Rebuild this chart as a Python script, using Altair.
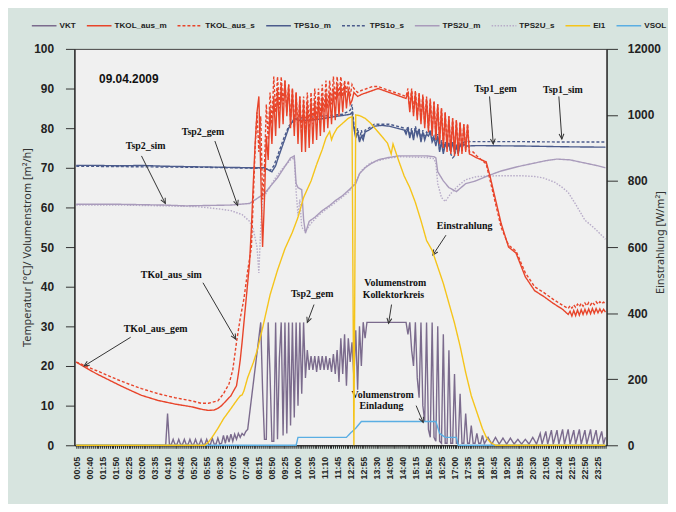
import math
import altair as alt
import pandas as pd


def hm(s):
    h, m = s.split(":")
    return int(h) * 60 + int(m)


def pts(pairs):
    return [(hm(t), v) for t, v in pairs]


def seg(start, values):
    t0 = hm(start)
    return [(t0 + 5 * i, v) for i, v in enumerate(values)]


# ---------------- data ----------------
series_names = ["VKT", "TKOL_aus_m", "TKOL_aus_s", "TPS1o_m", "TPS1o_s",
                "TPS2U_m", "TPS2U_s", "EI1", "VSOL"]
series_colors = ["#7b6b8d", "#e8442a", "#e8442a", "#4b5b8c", "#4b5b8c",
                 "#a99bbb", "#b7abc8", "#f5c41a", "#5aaee3"]
series_dashes = [[1, 0], [1, 0], [3, 2], [1, 0], [3, 2],
                 [1, 0], [1.5, 1.5], [1, 0], [1, 0]]

vkt = (pts([("00:05", 0), ("04:05", 0), ("04:10", 8), ("04:15", 0.2)])
       + seg("04:20", [0.2, 1.5, 0.2, 0.2, 1.5, 0.2, 0.2, 1.5, 0.2, 0.2, 1.5, 0.2,
                       0.2, 1.5, 0.2, 0.2, 1.5, 0.2, 0.2, 1.5, 0.2, 0.2, 1.8, 0.3,
                       0.3, 1.8, 0.3, 0.5, 2.5, 0.5, 2.5, 0.8, 2.8, 1.0, 2.8, 1.5,
                       3.0, 2.0, 3.0, 2.5, 3.5, 4.0])
       + seg("08:20", [31, 14, 1.5, 1.5, 31, 18, 1, 1, 31, 1.5, 22, 31, 2.5, 31, 3,
                       31, 5, 31, 7, 31, 10, 31, 13, 31, 17, 24,
                       19, 22.5, 19, 22.5, 18.5, 22.5, 19, 22.5, 19, 22.5, 19, 22,
                       18.5, 23, 18, 24, 16, 27, 18, 28, 15, 27, 21, 26, 17, 29,
                       14, 30, 20, 31, 27, 31])
       + pts([("14:50", 31)])
       + seg("14:55", [28, 31, 24, 20, 31, 17, 12, 31, 10, 6, 31, 4, 2, 31, 2, 1,
                       30, 1, 0.5, 28, 0.5, 0.5, 24, 0.5, 0.5, 18, 0.5, 0.5, 13,
                       0.5, 0.5, 8, 0.5, 0.5, 5, 0.5, 0.5, 3, 0.5, 0.5])
       + pts([("18:15", 2.5), ("18:20", 0.4), ("18:30", 2), ("18:40", 0.3),
              ("18:50", 2), ("19:00", 0.3), ("19:10", 1.8), ("19:20", 0.3),
              ("19:30", 1.8), ("19:40", 0.3), ("19:50", 1.5), ("20:00", 0.3),
              ("20:10", 1.5), ("20:20", 0.3), ("20:30", 2), ("20:40", 0.3),
              ("20:50", 3), ("20:55", 0.3), ("21:05", 3.5), ("21:10", 0.3),
              ("21:20", 3.8), ("21:25", 0.3), ("21:35", 3.8), ("21:40", 0.3),
              ("21:50", 4), ("21:55", 0.3), ("22:05", 4), ("22:10", 0.3),
              ("22:20", 3.8), ("22:25", 0.3), ("22:35", 4), ("22:40", 0.3),
              ("22:50", 3.8), ("22:55", 0.3), ("23:05", 4), ("23:10", 0.3),
              ("23:20", 3.8), ("23:25", 0.3), ("23:35", 3.5), ("23:40", 0.3),
              ("23:45", 2)]))

tkol_m = (pts([("00:05", 21), ("00:30", 19.6), ("01:00", 18), ("01:30", 16.6),
               ("02:00", 15.2), ("02:20", 14.3), ("03:00", 12.6), ("03:45", 11.3),
               ("04:30", 10.4), ("05:15", 9.7), ("05:45", 9.0), ("06:00", 8.8),
               ("06:15", 8.9), ("06:25", 9.3), ("06:35", 10), ("06:45", 11),
               ("07:00", 12.5), ("07:10", 14.2), ("07:15", 15), ("07:20", 18),
               ("07:25", 21.5), ("07:30", 26), ("07:35", 31), ("07:40", 36),
               ("07:45", 41), ("07:50", 46)])
          + seg("07:55", [55, 66, 76, 84, 88, 69, 50, 62, 78, 72, 85, 76])
          + seg("08:55", [88, 78, 90, 80, 91, 81, 92, 83, 91, 80, 90, 78, 89, 76,
                          88, 74, 87, 74, 87, 75, 87, 76, 87, 77, 88, 78, 88, 79,
                          89, 80, 89, 81, 90, 82, 91, 83, 91, 84, 91, 85, 90, 86])
          + pts([("12:25", 87), ("12:30", 89), ("12:40", 88), ("12:50", 88.5),
                 ("13:05", 89), ("13:20", 89.5), ("13:35", 90), ("13:50", 89.5),
                 ("14:05", 89), ("14:20", 88.5), ("14:35", 88), ("14:50", 87.5)])
          + seg("14:55", [89, 84, 89.5, 83, 89, 82, 88.5, 81, 88, 80, 87.5, 79, 87,
                          78, 86.5, 77, 86, 76, 85, 75, 84, 74, 83, 73.5, 82.5, 73,
                          82, 73, 81.5, 73.5, 81, 74, 81, 73.5])
          + pts([("17:50", 73), ("18:00", 72.5), ("18:25", 71.5), ("18:35", 68),
                 ("18:50", 62), ("19:05", 56), ("19:25", 50), ("19:45", 48.5),
                 ("20:10", 42.5), ("20:35", 39), ("21:00", 37.5), ("21:25", 35.8),
                 ("21:50", 34.3), ("22:05", 33)])
          + seg("22:10", [33.8, 32.6, 34, 32.7, 34.1, 32.8, 34.2, 33, 34.3, 33.1,
                          34.4, 33.2, 34.5, 33.3, 34.5, 33.4, 34.4, 33.5, 34.3, 33.6]))

tkol_s = (pts([("00:05", 21), ("00:30", 20), ("01:00", 18.8), ("01:30", 17.6),
               ("02:00", 16.4), ("02:30", 15.3), ("03:00", 14.3), ("03:45", 13),
               ("04:30", 12), ("05:15", 11.2), ("05:40", 10.6), ("06:00", 10.6),
               ("06:25", 11.2), ("06:40", 13), ("06:55", 15.5), ("07:05", 19),
               ("07:15", 26), ("07:25", 32), ("07:35", 37), ("07:45", 44),
               ("07:55", 50)])
          + seg("08:00", [62, 75, 84, 74, 83, 62, 70, 86, 77, 89, 81, 93])
          + seg("09:00", [84, 93, 85, 93, 86, 92, 84, 91, 82, 90, 80, 89, 79, 88,
                          78, 88, 79, 89, 80, 89, 81, 90, 82, 90, 83, 91, 84, 92,
                          85, 92, 86, 93, 87, 93, 88, 93, 88, 92, 89, 92, 88, 91])
          + pts([("12:30", 90), ("12:40", 89), ("12:50", 89.5), ("13:05", 90),
                 ("13:20", 90.5), ("13:35", 90.5), ("13:50", 90), ("14:05", 89.5),
                 ("14:20", 89), ("14:35", 88.5), ("14:50", 88)])
          + seg("14:55", [90, 85, 90, 84, 89.5, 83, 89, 82, 88.5, 81, 88, 80, 87.5,
                          79, 87, 78, 86, 77, 85, 76, 84, 75, 83, 74, 82.5, 74, 82,
                          73.5, 81.5, 74, 81, 74.5, 81, 74])
          + pts([("17:50", 74), ("18:00", 73), ("18:25", 71), ("18:35", 67),
                 ("18:50", 61), ("19:05", 55), ("19:25", 50.5), ("19:45", 49),
                 ("20:10", 43.5), ("20:35", 40), ("21:00", 38.5), ("21:25", 36.8),
                 ("21:50", 35.3), ("22:05", 34.5)])
          + seg("22:10", [35.2, 34.6, 35.4, 34.8, 35.6, 35, 35.8, 35.1, 35.9, 35.2,
                          36, 35.4, 36.1, 35.5, 36.2, 35.6, 36.2, 35.7, 36.1, 35.8]))

tps1_m = (pts([("00:05", 70.6), ("01:00", 70.6), ("02:00", 70.5), ("03:00", 70.6),
               ("04:00", 70.4), ("05:00", 70.3), ("06:00", 70.2), ("07:00", 70.1),
               ("08:00", 70), ("08:30", 70), ("08:40", 69.5), ("08:50", 69),
               ("09:00", 70.5), ("09:05", 72), ("09:20", 76), ("09:35", 80),
               ("09:50", 82.5), ("10:00", 82), ("10:30", 82), ("11:00", 82.3),
               ("11:30", 82.8), ("12:00", 83.2), ("12:20", 83.5)])
          + seg("12:25", [84, 80, 77.5, 79, 76.5, 78, 77, 79])
          + pts([("13:10", 79.5), ("13:25", 80.5), ("13:45", 80.7), ("14:05", 80.5),
                 ("14:25", 80), ("14:45", 79.5)])
          + seg("14:50", [78.5, 80, 77.5, 79.5, 77, 80, 78, 79.5, 76.5, 79, 77,
                          78.5, 78, 79, 76.5, 77.5, 75.5, 78, 74, 76.5, 73.5, 76,
                          75, 76])
          + seg("16:50", [74, 76.5, 74, 75.5, 73.5, 76, 75, 76, 75.5])
          + pts([("18:00", 75.6), ("20:00", 75.5), ("22:00", 75.3), ("23:45", 75.2)]))

tps1_s = (pts([("00:05", 70.4), ("02:00", 70.3), ("04:00", 70.2), ("06:00", 70.1),
               ("08:00", 69.9), ("08:30", 69.9), ("08:45", 69.3), ("08:55", 70.5),
               ("09:05", 73), ("09:20", 77), ("09:35", 80.5), ("09:50", 82),
               ("10:00", 82.5), ("11:00", 83), ("12:00", 83.5), ("12:20", 84.5)])
          + seg("12:25", [86, 81, 78, 80, 77, 79.5, 77.5, 79.5])
          + pts([("13:10", 80), ("13:25", 81), ("14:05", 81), ("14:25", 80.5),
                 ("14:45", 80)])
          + seg("14:50", [79, 80.5, 78, 80, 77.5, 80.5, 78.5, 80, 77, 79.5, 77.5,
                          79, 78.5, 79.5, 77, 78, 76, 78.5, 74.5, 77, 74, 76.5,
                          75.5, 76.5])
          + seg("16:50", [73.5, 72.5, 73, 75, 74, 76, 75.5, 76.5, 76.6])
          + pts([("18:00", 76.6), ("20:00", 76.6), ("22:00", 76.5), ("23:45", 76.5)]))

tps2_m = pts([("00:05", 60.8), ("02:00", 60.8), ("04:00", 60.6), ("05:00", 60.4),
              ("06:00", 60.5), ("07:00", 60.6), ("07:50", 61), ("08:30", 63.5),
              ("09:05", 67.5), ("09:40", 72.5), ("09:50", 73), ("09:55", 66),
              ("10:00", 65), ("10:10", 64.5), ("10:15", 57), ("10:20", 53.5),
              ("10:30", 56.5), ("10:45", 57.5), ("11:05", 59.2), ("11:25", 60.5),
              ("11:40", 61.7), ("12:00", 63), ("12:15", 64.3), ("12:35", 66),
              ("12:45", 68.5), ("13:00", 70), ("13:15", 71), ("13:35", 72),
              ("13:57", 72.5), ("14:30", 73), ("15:45", 73), ("16:05", 72.8),
              ("16:10", 72.5), ("16:15", 69), ("16:30", 66.7), ("16:45", 65),
              ("17:05", 64), ("17:30", 66), ("17:57", 66.7), ("18:30", 68),
              ("19:05", 69.2), ("19:50", 70.3), ("20:35", 71.2), ("21:05", 71.8),
              ("21:35", 72.2), ("22:10", 72), ("22:50", 71.2), ("23:20", 70.6),
              ("23:45", 70)])

tps2_s = pts([("00:05", 60.6), ("02:00", 60.6), ("04:00", 60.4), ("05:30", 60.2),
              ("06:30", 59.6), ("07:00", 59.2), ("07:30", 58.2), ("07:50", 56.5),
              ("08:00", 54.5), ("08:10", 50), ("08:15", 43.5), ("08:20", 55),
              ("08:25", 62), ("08:40", 64.5), ("09:00", 67.5), ("09:20", 70),
              ("09:40", 72), ("09:50", 72.5), ("09:55", 64), ("10:00", 58),
              ("10:05", 62), ("10:10", 55), ("10:20", 54), ("10:35", 56),
              ("10:55", 58), ("11:15", 59.5), ("11:40", 61.2), ("12:15", 63.8),
              ("12:35", 66.5), ("12:50", 69.3), ("13:15", 71.3), ("13:57", 72.3),
              ("14:30", 72.8), ("15:45", 72.6), ("16:05", 72.3), ("16:10", 71),
              ("16:15", 66), ("16:25", 62.5), ("16:35", 61.5), ("16:50", 63.5),
              ("17:10", 65.5), ("17:30", 67), ("18:00", 67.8), ("19:00", 68),
              ("20:00", 68), ("20:35", 67.8), ("21:00", 67.4), ("21:30", 66.3),
              ("21:50", 65), ("22:05", 63.8), ("22:25", 60.8), ("22:50", 56.8),
              ("23:15", 54.8), ("23:45", 52)])

ei1 = pts([("00:05", 0), ("05:50", 0), ("06:00", 10), ("06:10", 25), ("06:25", 51),
           ("06:40", 80), ("07:00", 111), ("07:15", 135), ("07:25", 150),
           ("07:30", 152), ("07:35", 165), ("07:45", 205), ("08:00", 250),
           ("08:10", 285), ("08:25", 355), ("08:45", 455), ("09:05", 530),
           ("09:25", 595), ("09:45", 645), ("10:00", 690), ("10:15", 750),
           ("10:35", 800), ("10:50", 850), ("11:05", 895), ("11:15", 930),
           ("11:25", 950), ("11:30", 925), ("11:35", 940), ("11:45", 960),
           ("12:00", 975), ("12:15", 990), ("12:25", 995), ("12:30", 0),
           ("12:35", 1000), ("12:45", 998), ("13:00", 990), ("13:15", 975),
           ("13:30", 955), ("13:45", 935), ("14:00", 915), ("14:10", 882),
           ("14:15", 912), ("14:30", 862), ("14:45", 815), ("15:00", 780),
           ("15:15", 735), ("15:30", 680), ("15:45", 620), ("16:00", 590),
           ("16:15", 540), ("16:30", 490), ("16:45", 430), ("17:00", 370),
           ("17:15", 300), ("17:30", 220), ("17:45", 150), ("18:00", 100),
           ("18:15", 50), ("18:25", 25), ("18:35", 10), ("18:50", 0), ("23:45", 0)])

vsol = pts([("00:05", 0), ("09:55", 0), ("10:00", 2), ("12:10", 2), ("12:20", 3),
            ("12:35", 4.3), ("12:50", 6), ("16:10", 6), ("16:20", 3), ("16:35", 2),
            ("17:05", 2), ("17:10", 0), ("23:45", 0)])

# annotations (time in minutes, value on the left axis)
note_text = ["Tsp2_sim", "Tsp2_gem", "Tsp1_gem", "Tsp1_sim", "Einstrahlung",
             "TKol_aus_sim", "TKol_aus_gem", "Tsp2_gem", "Volumenstrom",
             "Kollektorkreis", "Volumenstrom", "Einladung"]
note_t = [191, 345, 1130, 1311, 1047, 260, 218, 638, 861, 856, 827, 824]
note_v = [75.5, 79, 89.75, 89.5, 55.25, 43, 29.25, 38.25, 41, 38, 12.75, 10]

arrow_t1 = [180, 377, 1114, 1300, 997, 345, 151, 643, 851, 917]
arrow_v1 = [73, 76.75, 88, 88, 53, 41, 27.25, 35.5, 35.5, 10]
arrow_t2 = [244, 438, 1124, 1308, 962, 433, 26, 625, 843, 936]
arrow_v2 = [61, 60.5, 76, 77.25, 48, 26.75, 20, 31, 30.75, 5.75]

date_text = ["09.04.2009"]
date_t = [146]
date_v = [92.5]

x_tick_minutes = list(range(5, 1426, 5))

# ---------------- chart ----------------
W, H = 537, 400
T_DOMAIN = [0, 1428]

draw_order = [("TPS2U_s", tps2_s), ("TPS2U_m", tps2_m), ("TPS1o_s", tps1_s),
              ("TPS1o_m", tps1_m), ("VKT", vkt), ("TKOL_aus_s", tkol_s),
              ("TKOL_aus_m", tkol_m), ("VSOL", vsol)]
rows = []
for name, data in draw_order:
    for t, v in data:
        rows.append({"series": name, "t": t, "v": v})
df_left = pd.DataFrame(rows)
df_right = pd.DataFrame([{"series": "EI1", "t": t, "v": v} for t, v in ei1])

df_notes = pd.DataFrame({"label": note_text, "t": note_t, "v": note_v})
df_date = pd.DataFrame({"label": date_text, "t": date_t, "v": date_v})

px_per_min = W / (T_DOMAIN[1] - T_DOMAIN[0])
px_per_unit = H / 100.0
angles = []
for a, b, c, d in zip(arrow_t1, arrow_v1, arrow_t2, arrow_v2):
    dx = (c - a) * px_per_min
    dy = -(d - b) * px_per_unit
    angles.append(math.degrees(math.atan2(-dx, dy)) % 360)
df_arrows = pd.DataFrame({"t": arrow_t1, "v": arrow_v1, "t2": arrow_t2,
                          "v2": arrow_v2, "ang": angles})

color_scale = alt.Scale(domain=series_names, range=series_colors)
dash_scale = alt.Scale(domain=series_names, range=series_dashes)
legend = alt.Legend(orient="none", legendX=-44, legendY=-37, direction="horizontal",
                    columns=9, title=None, symbolType="stroke", symbolSize=620,
                    symbolStrokeWidth=1.5, labelFont="Liberation Sans",
                    labelFontWeight="bold", labelFontSize=8.2, labelColor="#222222",
                    columnPadding=7.5, labelOffset=2)

x_scale = alt.Scale(domain=T_DOMAIN, nice=False, zero=False)
x_label_expr = ("(datum.value - 5) % 35 == 0 ? (datum.value < 600 ? '0' : '') + "
                "floor(datum.value / 60) + ':' + (datum.value % 60 < 10 ? '0' : '') + "
                "(datum.value % 60) : ''")
x_axis = alt.Axis(values=x_tick_minutes, labelExpr=x_label_expr, labelAngle=270,
                  labelAlign="right", labelBaseline="middle", labelFont="Liberation Sans",
                  labelFontWeight="bold", labelFontSize=9, labelColor="#222222",
                  labelPadding=8, labelOverlap=False, labelFlush=False, tickSize=3,
                  tickColor="#222222", tickWidth=1, domainColor="#222222",
                  domainWidth=1.2, grid=False, title=None)
y_left_scale = alt.Scale(domain=[0, 100], nice=False)
y_left_axis = alt.Axis(values=list(range(0, 101, 10)), format="d", grid=False,
                       labelFont="Liberation Sans", labelFontWeight="bold",
                       labelFontSize=12, labelColor="#222222", labelPadding=12,
                       tickSize=9, tickColor="#333333", domainColor="#222222",
                       domainWidth=1.2,
                       title="Temperatur [°C]/ Volumenstrom [m²/h]",
                       titleFont="Noto Sans", titleFontSize=11,
                       titleFontWeight="normal", titleColor="#333333",
                       titleAngle=270, titleX=-47, titleY=200, titleAlign="center",
                       titleBaseline="middle")
y_right_scale = alt.Scale(domain=[0, 1200], nice=False)
y_right_axis = alt.Axis(orient="right", values=list(range(0, 1201, 200)),
                        labelExpr="datum.value == 1200 ? '12000' : format(datum.value, 'd')",
                        grid=False, labelFont="Liberation Sans", labelFontWeight="bold",
                        labelFontSize=12, labelColor="#222222", labelPadding=10,
                        tickSize=11, tickColor="#333333", domainColor="#222222",
                        domainWidth=1.2, title="Einstrahlung [W/m²]",
                        titleFont="Noto Sans", titleFontSize=11,
                        titleFontWeight="normal", titleColor="#333333",
                        titleAngle=270, titleX=54, titleY=195, titleAlign="center",
                        titleBaseline="middle")

X = alt.X("t:Q", scale=x_scale, axis=x_axis)
YL = alt.Y("v:Q", scale=y_left_scale, axis=y_left_axis)

lines_left = alt.Chart(df_left).mark_line(strokeWidth=1.4).encode(
    x=X, y=YL,
    color=alt.Color("series:N", scale=color_scale, legend=legend),
    strokeDash=alt.StrokeDash("series:N", scale=dash_scale, legend=legend),
)

arrow_lines = alt.Chart(df_arrows).mark_rule(color="#333333", strokeWidth=1).encode(
    x=X, x2="t2:Q", y=YL, y2="v2:Q",
)
arrow_heads = alt.Chart(df_arrows).mark_point(
    shape="M-0.7,-1.5L0,0L0.7,-1.5", filled=False, size=49, strokeWidth=1,
    color="#333333", opacity=1).encode(
    x=alt.X("t2:Q", scale=x_scale, axis=x_axis),
    y=alt.Y("v2:Q", scale=y_left_scale, axis=y_left_axis),
    angle=alt.Angle("ang:Q", scale=None),
)
notes = alt.Chart(df_notes).mark_text(font="Liberation Serif", fontWeight="bold",
                                      fontSize=10, color="#111111").encode(
    x=X, y=YL, text="label:N",
)
date = alt.Chart(df_date).mark_text(font="Liberation Sans", fontWeight="bold",
                                    fontSize=12, color="#111111").encode(
    x=X, y=YL, text="label:N",
)

left = alt.layer(lines_left, arrow_lines, arrow_heads, notes, date)

right = alt.Chart(df_right).mark_line(strokeWidth=1.4).encode(
    x=X,
    y=alt.Y("v:Q", scale=y_right_scale, axis=y_right_axis),
    color=alt.Color("series:N", scale=color_scale, legend=legend),
    strokeDash=alt.StrokeDash("series:N", scale=dash_scale, legend=legend),
)

chart = alt.layer(left, right).resolve_scale(y="independent").properties(
    width=W, height=H, background="#d7e4df",
    padding={"left": 67, "top": 39, "right": 62, "bottom": 57},
    autosize=alt.AutoSizeParams(type="none"),
).configure_view(fill="#f0f0f0", stroke="#444444", strokeWidth=1)

chart.save("out.html", embed_options={"renderer": "svg", "actions": False})
